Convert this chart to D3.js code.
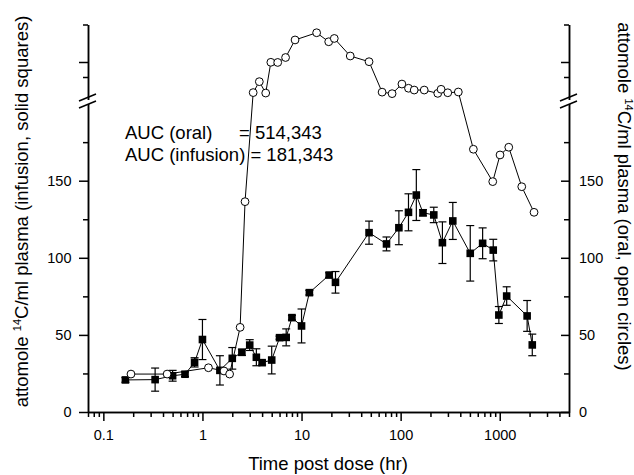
<!DOCTYPE html>
<html>
<head>
<meta charset="utf-8">
<script src="https://cdn.jsdelivr.net/npm/d3@7"></script>
<style>
  body { margin: 0; background: #fff; }
  svg { display: block; font-family: "Liberation Sans", Arial, sans-serif; }
  .axis path, .axis line { stroke: #000; stroke-width: 1.5; }
  .axis text { font-size: 14.5px; fill: #000; }
</style>
</head>
<body>
<svg id="chart" width="634" height="475"></svg>
<script>
// infusion (solid squares): time (hr), attomole/ml, error
var infTime = [0.167, 0.333, 0.5, 0.667, 0.833, 1, 1.5, 2, 2.5, 3, 3.5, 4, 5, 6, 7, 8, 10, 12,
  19, 22, 48, 72, 96, 120, 144, 168, 216, 264, 336, 504, 672, 860, 980, 1175, 1890, 2130];
var infValue = [20.8, 21, 23.5, 24.5, 32.2, 47, 27, 34.8, 38.7, 43.4, 35.5, 32, 33.7, 48.2, 48.4, 61.2, 55.8, 77.4,
  88.8, 84.1, 116.3, 109, 119.5, 129.5, 140.7, 129.2, 127.8, 109.8, 123.9, 102.9, 109.4, 105, 62.9, 75.2, 62.3, 43.5];
var infError = [1.5, 7.5, 3.5, 1.5, 3, 13, 9.5, 7, 2, 3.5, 5.5, 1.5, 9, 1, 5.5, 1.5, 11, 1.5,
  1.5, 7, 7.5, 4.5, 11, 12, 16.5, 2, 5, 13.5, 12, 18, 10, 7, 5.5, 6, 10, 7];

// oral (open circles): values above the break are on the upper segment
var oralTime = [0.19, 0.44, 1.15, 1.65, 1.88, 2.4, 2.69, 3.25, 3.75, 4.35, 4.9, 5.75, 6.9, 8.6, 14.2, 18.8, 21.4,
  31, 48, 65, 82, 103, 120, 137, 173, 237, 256, 299, 382, 542, 850, 1007, 1233, 1668, 2219];
var oralValue = [24.6, 24.6, 28.7, 26.6, 24.6, 54.9, 136.4, 796, 869, 793, 998, 997, 1030, 1147, 1195, 1135, 1157,
  1040, 1002, 799, 789, 853, 825, 813, 813, 791, 818, 795, 800, 170.4, 149.4, 166.7, 171.7, 146.1, 129.5];

var xMajor = [0.1, 1, 10, 100, 1000];
var yMajor = [0, 50, 100, 150];
var yMinor = [25, 75, 125, 175];
var yUpperMajor = [1000];
var yUpperMinor = [900, 1250];

var svg = d3.select('#chart');

var left = 88, right = 569, bottom = 412;

// set the ranges
var x = d3.scaleLog().domain([0.07, 5000]).range([left, right]);
var yLow = d3.scaleLinear().domain([0, 200]).range([bottom, 103.6]);
var yHigh = d3.scaleLinear().domain([750, 1250]).range([99.5, 24.5]);
var y = function(v) { return v <= 200 ? yLow(v) : yHigh(v); };

var xMinor = [];
[0.01, 0.1, 1, 10, 100, 1000].forEach(function(d) {
  for (var k = 2; k <= 9; k++) {
    var v = +(k * d).toPrecision(3);
    if (v >= 0.07 && v <= 5000) xMinor.push(v);
  }
});

// x axis
svg.append('g').attr('class', 'axis')
  .attr('transform', `translate(0,${bottom})`)
  .call(d3.axisBottom(x).tickValues(xMinor).tickSize(5).tickSizeOuter(0).tickFormat(''));
svg.append('g').attr('class', 'axis')
  .attr('transform', `translate(0,${bottom})`)
  .call(d3.axisBottom(x).tickValues(xMajor).tickSize(9).tickSizeOuter(0).tickPadding(9)
    .tickFormat(d => d < 1 ? String(d) : d3.format('d')(d)));

// left axis, two segments
svg.append('g').attr('class', 'axis')
  .attr('transform', `translate(${left},0)`)
  .call(d3.axisLeft(yLow).tickValues(yMinor).tickSize(5).tickSizeOuter(0).tickFormat(''));
svg.append('g').attr('class', 'axis')
  .attr('transform', `translate(${left},0)`)
  .call(d3.axisLeft(yLow).tickValues(yMajor).tickSize(9).tickSizeOuter(0).tickPadding(7.5));
svg.append('g').attr('class', 'axis')
  .attr('transform', `translate(${left},0)`)
  .call(d3.axisLeft(yHigh).tickValues(yUpperMinor).tickSize(5).tickSizeOuter(0).tickFormat(''));
svg.append('g').attr('class', 'axis')
  .attr('transform', `translate(${left},0)`)
  .call(d3.axisLeft(yHigh).tickValues(yUpperMajor).tickSize(9).tickSizeOuter(0).tickFormat(''));

// right axis, ticks point inward
svg.append('g').attr('class', 'axis')
  .attr('transform', `translate(${right},0)`)
  .call(d3.axisRight(yLow).tickValues(yMinor).tickSize(-5).tickSizeOuter(0).tickFormat(''));
svg.append('g').attr('class', 'axis')
  .attr('transform', `translate(${right},0)`)
  .call(d3.axisRight(yLow).tickValues(yMajor).tickSize(-8).tickSizeOuter(0).tickPadding(10));
svg.append('g').attr('class', 'axis')
  .attr('transform', `translate(${right},0)`)
  .call(d3.axisRight(yHigh).tickValues(yUpperMinor).tickSize(-5).tickSizeOuter(0).tickFormat(''));
svg.append('g').attr('class', 'axis')
  .attr('transform', `translate(${right},0)`)
  .call(d3.axisRight(yHigh).tickValues(yUpperMajor).tickSize(-8).tickSizeOuter(0).tickFormat(''));

// break marks
[left, right].forEach(function(ax) {
  [0, 7].forEach(function(off) {
    svg.append('line')
      .attr('x1', ax - 9).attr('y1', 101 + off)
      .attr('x2', ax + 8).attr('y2', 94 + off)
      .attr('stroke', '#000').attr('stroke-width', 1.5);
  });
});

var line = d3.line().x(d => x(d[0])).y(d => y(d[1]));

var oral = oralTime.map((t, i) => [t, oralValue[i]]);
var inf = infTime.map((t, i) => [t, infValue[i], infError[i]]);

svg.append('path').datum(oral)
  .attr('fill', 'none').attr('stroke', '#000').attr('stroke-width', 1)
  .attr('d', line);
svg.append('path').datum(inf)
  .attr('fill', 'none').attr('stroke', '#000').attr('stroke-width', 1)
  .attr('d', line);

// error bars
var err = svg.append('g').attr('stroke', '#000').attr('stroke-width', 1.2);
inf.forEach(function(d) {
  var cx = x(d[0]), top = y(d[1] + d[2]), bot = y(d[1] - d[2]);
  err.append('line').attr('x1', cx).attr('x2', cx).attr('y1', top).attr('y2', bot);
  err.append('line').attr('x1', cx - 4).attr('x2', cx + 4).attr('y1', top).attr('y2', top);
  err.append('line').attr('x1', cx - 4).attr('x2', cx + 4).attr('y1', bot).attr('y2', bot);
});

svg.append('g').selectAll('rect').data(inf).enter()
  .append('rect')
  .attr('x', d => x(d[0]) - 3.8)
  .attr('y', d => y(d[1]) - 3.8)
  .attr('width', 7.6)
  .attr('height', 7.6)
  .attr('fill', '#000');

svg.append('g').selectAll('circle').data(oral).enter()
  .append('circle')
  .attr('cx', d => x(d[0]))
  .attr('cy', d => y(d[1]))
  .attr('r', 3.9)
  .attr('fill', '#fff')
  .attr('stroke', '#000')
  .attr('stroke-width', 1);

// AUC note
var note = svg.append('g').style('font-size', '18.5px').attr('fill', '#000');
note.append('text').attr('x', 125).attr('y', 139.3).text('AUC (oral)');
note.append('text').attr('x', 239).attr('y', 139.3).text('= 514,343');
note.append('text').attr('x', 125).attr('y', 160.7).text('AUC (infusion) = 181,343');

// axis titles
svg.append('text')
  .attr('x', 328).attr('y', 470)
  .style('font-size', '18.5px')
  .style('text-anchor', 'middle')
  .text('Time post dose (hr)');

function title(t, label) {
  var txt = svg.append('text')
    .attr('transform', t)
    .style('font-size', '18.5px')
    .style('text-anchor', 'middle');
  txt.append('tspan').text('attomole ');
  txt.append('tspan').attr('dy', -7).style('font-size', '11px').text('14');
  txt.append('tspan').attr('dy', 7).text('C/ml plasma ' + label);
}
title('translate(28,211.5) rotate(-90)', '(infusion, solid squares)');
title('translate(618,196.5) rotate(90)', '(oral, open circles)');
</script>
</body>
</html>
